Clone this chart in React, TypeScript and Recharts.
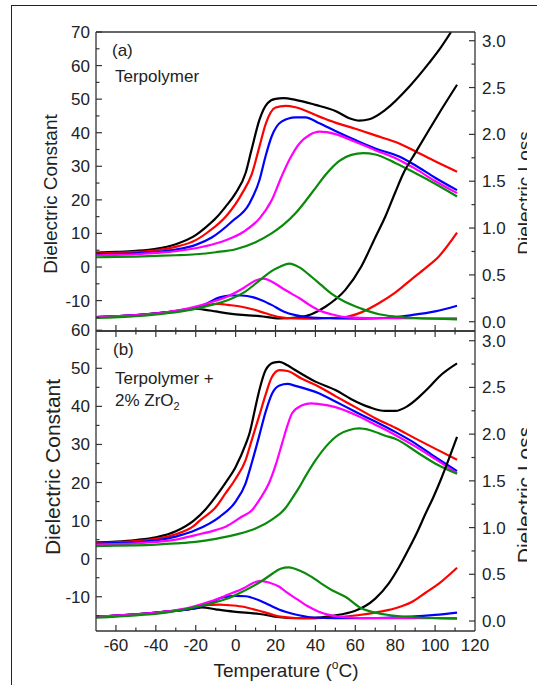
import React from 'react';
import { LineChart, Line, XAxis, YAxis } from 'recharts';

type Pt = [number, number];

// ---- panel (a): terpolymer, dielectric constant (left axis) ----
const aEpsBlack: Pt[] = [[-70, 4.3], [-60, 4.5], [-50, 4.8], [-40, 5.4], [-30, 6.8], [-20, 9.5], [-15, 11.8], [-10, 14.5], [-5, 18], [0, 22], [5, 28], [8, 35], [12, 44], [16, 48.8], [20, 50.1], [24, 50.3], [30, 49.8], [40, 48.3], [50, 46.5], [57, 44.3], [62, 43.6], [67, 44], [75, 46.8], [87, 53.7], [97, 60.8], [103, 65.5], [108, 70]];
const aEpsRed: Pt[] = [[-70, 4.0], [-60, 4.2], [-50, 4.5], [-40, 5.0], [-30, 6.0], [-20, 8.0], [-13, 10.8], [-5, 15], [0, 18.8], [3.3, 22], [8, 27.5], [12, 36], [15, 42.5], [20, 47.5], [25, 48], [30, 47.6], [42, 44.8], [50, 43], [60, 41.2], [70, 39.2], [82, 36.8], [90, 34.5], [100, 31.5], [111, 28.4]];
const aEpsBlue: Pt[] = [[-70, 3.8], [-60, 3.9], [-50, 4.1], [-40, 4.5], [-30, 5.2], [-20, 6.6], [-12, 8.8], [-2, 13.5], [7, 19], [12, 26], [15, 33], [18, 38.8], [23, 43.3], [30, 44.6], [35, 44.6], [42, 42.8], [50, 40.5], [60, 37.8], [70, 35.3], [82, 32.9], [90, 30.3], [100, 26.6], [111, 22.9]];
const aEpsMagenta: Pt[] = [[-70, 3.5], [-60, 3.6], [-50, 3.8], [-40, 4.2], [-30, 4.7], [-20, 5.6], [-10, 7], [-4, 8.2], [4, 10.5], [12, 14.5], [18, 19.8], [23, 26.9], [27, 32], [32, 36.8], [37, 39.3], [42, 40.3], [50, 39.6], [60, 37.3], [70, 34.8], [82, 31.9], [90, 29.3], [100, 25.6], [111, 22]];
const aEpsGreen: Pt[] = [[-70, 2.9], [-60, 3], [-50, 3.1], [-40, 3.3], [-30, 3.5], [-20, 3.8], [-10, 4.4], [0, 5.3], [10, 7.4], [18, 10], [24, 12.6], [30, 16], [35, 19.6], [40, 23.5], [45, 27.4], [52, 31.6], [58, 33.4], [64, 33.9], [70, 33.5], [80, 31], [90, 28], [100, 24.8], [111, 21]];

// ---- panel (a): dielectric loss (right axis) ----
const aLossBlack: Pt[] = [[-70, 0.05], [-50, 0.07], [-35, 0.1], [-20, 0.14], [-16, 0.13], [-10, 0.11], [-4, 0.09], [5, 0.07], [12, 0.06], [22, 0.036], [30, 0.045], [38, 0.08], [45, 0.16], [55, 0.34], [63, 0.59], [70, 0.9], [75, 1.12], [80, 1.38], [84, 1.58], [90, 1.8], [97, 2.05], [103, 2.26], [111, 2.53]];
const aLossRed: Pt[] = [[-70, 0.05], [-50, 0.07], [-35, 0.1], [-22, 0.14], [-14, 0.18], [-8, 0.19], [-4, 0.18], [3, 0.16], [9, 0.13], [15, 0.09], [22, 0.05], [30, 0.035], [38, 0.033], [47, 0.04], [55, 0.05], [63, 0.1], [72, 0.2], [80, 0.31], [88, 0.45], [95, 0.57], [102, 0.7], [111, 0.95]];
const aLossBlue: Pt[] = [[-70, 0.05], [-50, 0.07], [-35, 0.1], [-22, 0.14], [-15, 0.19], [-8, 0.26], [-3, 0.28], [3, 0.28], [9, 0.26], [13, 0.23], [18, 0.18], [24, 0.11], [30, 0.07], [38, 0.045], [50, 0.035], [63, 0.033], [75, 0.04], [88, 0.07], [100, 0.11], [111, 0.17]];
const aLossMagenta: Pt[] = [[-70, 0.05], [-50, 0.07], [-35, 0.1], [-22, 0.15], [-12, 0.21], [-4, 0.27], [4, 0.36], [10, 0.44], [14, 0.46], [18, 0.43], [24, 0.35], [28, 0.3], [32, 0.25], [37, 0.18], [42, 0.12], [48, 0.08], [55, 0.05], [70, 0.037], [111, 0.035]];
const aLossGreen: Pt[] = [[-70, 0.04], [-50, 0.06], [-35, 0.09], [-22, 0.13], [-12, 0.18], [-4, 0.23], [4, 0.31], [12.5, 0.45], [18, 0.54], [22.5, 0.59], [27, 0.62], [32, 0.58], [38, 0.48], [43, 0.39], [48, 0.3], [55, 0.21], [63, 0.14], [72, 0.08], [80, 0.055], [90, 0.04], [111, 0.025]];

// ---- panel (b): terpolymer + 2% ZrO2, dielectric constant ----
const bEpsBlack: Pt[] = [[-70, 4.3], [-60, 4.5], [-50, 4.9], [-40, 5.6], [-30, 7.2], [-21, 10], [-15, 13], [-10, 16.3], [-5, 20], [0, 24.1], [5, 30], [7, 33], [10, 40], [12, 44.5], [15, 49.5], [19, 51.5], [22, 51.7], [26, 50.8], [30, 49.5], [40, 46.5], [50, 44.3], [58, 41.9], [67, 39.8], [75, 38.8], [80, 38.8], [86, 40], [92, 42.5], [97, 45], [102, 47.8], [111, 51.3]];
const bEpsRed: Pt[] = [[-70, 4.1], [-60, 4.3], [-50, 4.6], [-40, 5.2], [-30, 6.4], [-21, 8.6], [-18, 10], [-10, 13.5], [-5, 17.2], [0, 21], [5, 25.9], [8, 31], [11.7, 37.3], [15, 43], [18, 47.5], [22, 49.5], [26, 49.3], [33, 47.3], [42, 45.1], [50, 42.7], [60, 39.8], [70, 36.9], [80, 34.4], [90, 31.6], [100, 28.9], [111, 26]];
const bEpsBlue: Pt[] = [[-70, 3.9], [-60, 4.1], [-50, 4.3], [-40, 4.8], [-30, 5.8], [-20, 7.5], [-8, 11], [0, 15], [5, 19.8], [8, 25], [11.7, 32], [15, 38.5], [18.3, 43.4], [22, 45.5], [26, 45.9], [30, 45.4], [42, 43.4], [50, 41.3], [60, 38.6], [70, 36], [80, 33.3], [90, 30.3], [100, 26.7], [111, 23]];
const bEpsMagenta: Pt[] = [[-70, 3.7], [-60, 3.8], [-50, 4], [-40, 4.4], [-30, 5], [-20, 6.2], [-10, 7.5], [-5, 8.4], [3, 11], [8.3, 12.8], [12, 15.5], [16.7, 19.8], [20, 24.5], [23.3, 30.3], [26, 35], [28.3, 38.2], [33, 40.2], [38, 40.8], [42, 40.6], [50, 39.8], [60, 37.8], [70, 35.2], [80, 32.5], [90, 29.5], [100, 26.2], [111, 22.4]];
const bEpsGreen: Pt[] = [[-70, 3.3], [-60, 3.4], [-50, 3.5], [-40, 3.7], [-30, 4], [-20, 4.4], [-10, 5.2], [0, 6.3], [10, 7.9], [18, 10.2], [25, 13.3], [28, 15.6], [31.7, 18.6], [35, 21.6], [40, 25.8], [45, 29.3], [51.7, 32.6], [57, 33.8], [62, 34.2], [67, 33.8], [75, 32.3], [80, 31.5], [91.7, 27.7], [100, 25], [111, 22.3]];

// ---- panel (b): dielectric loss ----
const bLossBlack: Pt[] = [[-70, 0.046], [-50, 0.07], [-35, 0.1], [-20, 0.136], [-17, 0.146], [-10, 0.125], [-1, 0.1], [12, 0.075], [22, 0.04], [30, 0.03], [38, 0.03], [47, 0.05], [55, 0.08], [60, 0.11], [65, 0.16], [70, 0.24], [76.7, 0.4], [82, 0.58], [87, 0.78], [91, 0.95], [95, 1.14], [99, 1.32], [103, 1.52], [107, 1.74], [111, 1.97]];
const bLossRed: Pt[] = [[-70, 0.046], [-50, 0.07], [-35, 0.1], [-20, 0.14], [-16, 0.17], [-8, 0.175], [-4, 0.17], [3, 0.155], [9, 0.125], [15, 0.09], [22.5, 0.046], [30, 0.032], [38, 0.03], [50, 0.04], [62, 0.064], [70, 0.09], [80, 0.136], [88, 0.2], [95, 0.3], [103, 0.42], [111, 0.57]];
const bLossBlue: Pt[] = [[-70, 0.046], [-50, 0.07], [-35, 0.1], [-20, 0.14], [-13, 0.19], [-7, 0.25], [0, 0.27], [5, 0.265], [12, 0.22], [17, 0.17], [22, 0.12], [30, 0.07], [38, 0.04], [50, 0.03], [63, 0.03], [75, 0.035], [88, 0.046], [100, 0.065], [111, 0.09]];
const bLossMagenta: Pt[] = [[-70, 0.046], [-50, 0.07], [-35, 0.1], [-22, 0.15], [-12.5, 0.21], [-4, 0.28], [4, 0.35], [9, 0.41], [12.5, 0.43], [17, 0.41], [21.7, 0.37], [26, 0.3], [31.7, 0.22], [36, 0.16], [41.7, 0.1], [48, 0.06], [55, 0.04], [70, 0.03], [111, 0.03]];
const bLossGreen: Pt[] = [[-70, 0.035], [-50, 0.06], [-35, 0.09], [-22, 0.14], [-12, 0.19], [-4, 0.24], [4, 0.32], [12.5, 0.42], [18, 0.5], [22.5, 0.56], [26.7, 0.575], [32, 0.54], [38.3, 0.47], [43, 0.4], [48.3, 0.33], [55, 0.26], [63, 0.136], [70, 0.09], [76.7, 0.064], [90, 0.04], [111, 0.025]];

// ticks
const xTicks = [-60, -50, -40, -30, -20, -10, 0, 10, 20, 30, 40, 50, 60, 70, 80, 90, 100, 110, 120];
const epsTicksA = [-15, -10, -5, 0, 5, 10, 15, 20, 25, 30, 35, 40, 45, 50, 55, 60, 65, 70];
const epsTicksB = [-15, -10, -5, 0, 5, 10, 15, 20, 25, 30, 35, 40, 45, 50, 55, 60];
const lossTicks = [0, 0.25, 0.5, 0.75, 1, 1.25, 1.5, 1.75, 2, 2.25, 2.5, 2.75, 3];

const W = 537;
const PL = 96;
const PR = 475;
const AX = '#333';
const FONT = '"Liberation Sans", Arial, sans-serif';
const COLORS = ['#000000', '#ff0000', '#0000ff', '#ff00ff', '#0a8a0a'];

const toData = (pts: Pt[]) => pts.map(([t, v]) => ({ t, v }));

const tickText = { fontFamily: FONT, fontSize: 17, fill: '#222' };

const leftTick = (props: any) => {
  const { y, payload } = props;
  const v = payload.value;
  const major = v % 10 === 0;
  return (
    <g>
      <line x1={PL} x2={PL + (major ? 6 : 3.5)} y1={y} y2={y} stroke={AX} strokeWidth={1.2} />
      {major && (
        <text x={PL - 6} y={y + 6} textAnchor="end" {...tickText}>
          {v}
        </text>
      )}
    </g>
  );
};

const rightTick = (props: any) => {
  const { y, payload } = props;
  const v = payload.value;
  const major = Math.abs(v * 2 - Math.round(v * 2)) < 1e-6;
  return (
    <g>
      <line x1={PR - (major ? 6 : 3.5)} x2={PR} y1={y} y2={y} stroke={AX} strokeWidth={1.2} />
      {major && (
        <text x={PR + 7} y={y + 6} textAnchor="start" {...tickText}>
          {v.toFixed(1)}
        </text>
      )}
    </g>
  );
};

const xTickFactory = (edge: number, dir: number, labels: boolean) => (props: any) => {
  const { x, payload } = props;
  const v = payload.value;
  const major = v % 20 === 0;
  return (
    <g>
      {v < 120 && (
        <line x1={x} x2={x} y1={edge} y2={edge + dir * (major ? 6 : 3.5)} stroke={AX} strokeWidth={1.2} />
      )}
      {labels && major && (
        <text x={x} y={edge + 20} textAnchor="middle" {...tickText}>
          {v}
        </text>
      )}
    </g>
  );
};

interface PanelProps {
  eps: Pt[][];
  loss: Pt[][];
  epsDomain: [number, number];
  lossDomain: [number, number];
  epsTicks: number[];
  height: number;
  marginTop: number;
  bottomH: number;
  plotTop: number;
  plotBottom: number;
  topTicks: boolean;
  bottomLabels: boolean;
}

const Panel: React.FC<PanelProps> = ({
  eps, loss, epsDomain, lossDomain, epsTicks, height, marginTop, bottomH,
  plotTop, plotBottom, topTicks, bottomLabels
}) => (
  <LineChart width={W} height={height} margin={{ top: marginTop, right: 0, bottom: 0, left: 0 }}>
    <XAxis
      xAxisId="bottom"
      type="number"
      dataKey="t"
      domain={[-70, 120]}
      allowDataOverflow
      ticks={xTicks}
      interval={0}
      height={bottomH}
      tickLine={false}
      axisLine={{ stroke: AX, strokeWidth: 1.3 }}
      tick={xTickFactory(plotBottom, -1, bottomLabels)}
    />
    <XAxis
      xAxisId="top"
      orientation="top"
      type="number"
      dataKey="t"
      domain={[-70, 120]}
      allowDataOverflow
      ticks={xTicks}
      interval={0}
      height={30}
      tickLine={false}
      axisLine={{ stroke: AX, strokeWidth: 1.3 }}
      tick={topTicks ? xTickFactory(plotTop, 1, false) : false}
    />
    <YAxis
      yAxisId="eps"
      orientation="left"
      width={PL}
      domain={epsDomain}
      allowDataOverflow
      ticks={epsTicks}
      interval={0}
      tickLine={false}
      axisLine={{ stroke: AX, strokeWidth: 1.3 }}
      tick={leftTick}
    />
    <YAxis
      yAxisId="loss"
      orientation="right"
      width={W - PR}
      domain={lossDomain}
      allowDataOverflow
      ticks={lossTicks}
      interval={0}
      tickLine={false}
      axisLine={{ stroke: AX, strokeWidth: 1.3 }}
      tick={rightTick}
    />
    {eps.map((pts, i) => (
      <Line
        key={'e' + i}
        xAxisId="bottom"
        yAxisId="eps"
        data={toData(pts)}
        dataKey="v"
        type="monotone"
        stroke={COLORS[i]}
        strokeWidth={2.2}
        dot={false}
        isAnimationActive={false}
      />
    ))}
    {loss.map((pts, i) => (
      <Line
        key={'l' + i}
        xAxisId="bottom"
        yAxisId="loss"
        data={toData(pts)}
        dataKey="v"
        type="monotone"
        stroke={COLORS[i]}
        strokeWidth={2.2}
        dot={false}
        isAnimationActive={false}
      />
    ))}
  </LineChart>
);

const titleText = { fontFamily: FONT, fontSize: 19, fill: '#222' };
const noteText = { fontFamily: FONT, fontSize: 17, fill: '#222' };

export default function App() {
  return (
    <div style={{ position: 'absolute', left: 0, top: 0, width: W, height: 685, overflow: 'hidden', background: '#fff' }}>
      <div style={{ position: 'absolute', left: 11, top: 5, width: 600, height: 700, borderLeft: '1.5px solid #222', borderTop: '1.5px solid #222' }} />
      <div style={{ position: 'absolute', left: 0, top: 0 }}>
        <Panel
          eps={[aEpsBlack, aEpsRed, aEpsBlue, aEpsMagenta, aEpsGreen]}
          loss={[aLossBlack, aLossRed, aLossBlue, aLossMagenta, aLossGreen]}
          epsDomain={[-19.06, 70]}
          lossDomain={[-0.099, 3.093]}
          epsTicks={epsTicksA}
          height={332}
          marginTop={2}
          bottomH={1}
          plotTop={32}
          plotBottom={331}
          topTicks={false}
          bottomLabels={false}
        />
      </div>
      <div style={{ position: 'absolute', left: 0, top: 300 }}>
        <Panel
          eps={[bEpsBlack, bEpsRed, bEpsBlue, bEpsMagenta, bEpsGreen]}
          loss={[bLossBlack, bLossRed, bLossBlue, bLossMagenta, bLossGreen]}
          epsDomain={[-19, 59.8]}
          lossDomain={[-0.107, 3.104]}
          epsTicks={epsTicksB}
          height={385}
          marginTop={1}
          bottomH={54}
          plotTop={31}
          plotBottom={331}
          topTicks
          bottomLabels
        />
      </div>
      <svg width={W} height={685} style={{ position: 'absolute', left: 0, top: 0, pointerEvents: 'none' }}>
        <defs>
          <clipPath id="cutRight">
            <rect x={0} y={0} width={527} height={685} />
          </clipPath>
        </defs>
        <text x={112} y={56} {...noteText}>(a)</text>
        <text x={115} y={82} {...noteText}>Terpolymer</text>
        <text x={113} y={355} {...noteText}>(b)</text>
        <text x={115} y={384} {...noteText}>Terpolymer +</text>
        <text x={115} y={406} {...noteText}>
          2% ZrO<tspan fontSize={11} dy={4}>2</tspan>
        </text>
        <text x={57} y={194} textAnchor="middle" transform="rotate(-90 57 194)" {...titleText}>Dielectric Constant</text>
        <text x={60} y={467} textAnchor="middle" transform="rotate(-90 60 467)" {...titleText} fontSize={21}>Dielectric Constant</text>
        <g clipPath="url(#cutRight)">
          <text x={531} y={193} textAnchor="middle" transform="rotate(-90 531 193)" {...titleText}>Dielectric Loss</text>
          <text x={532} y={495} textAnchor="middle" transform="rotate(-90 532 495)" {...titleText} fontSize={21}>Dielectric Loss</text>
        </g>
        <text x={286} y={677} textAnchor="middle" {...titleText}>
          Temperature (<tspan fontSize={12} dy={-8}>o</tspan><tspan dy={8}>C)</tspan>
        </text>
      </svg>
    </div>
  );
}
